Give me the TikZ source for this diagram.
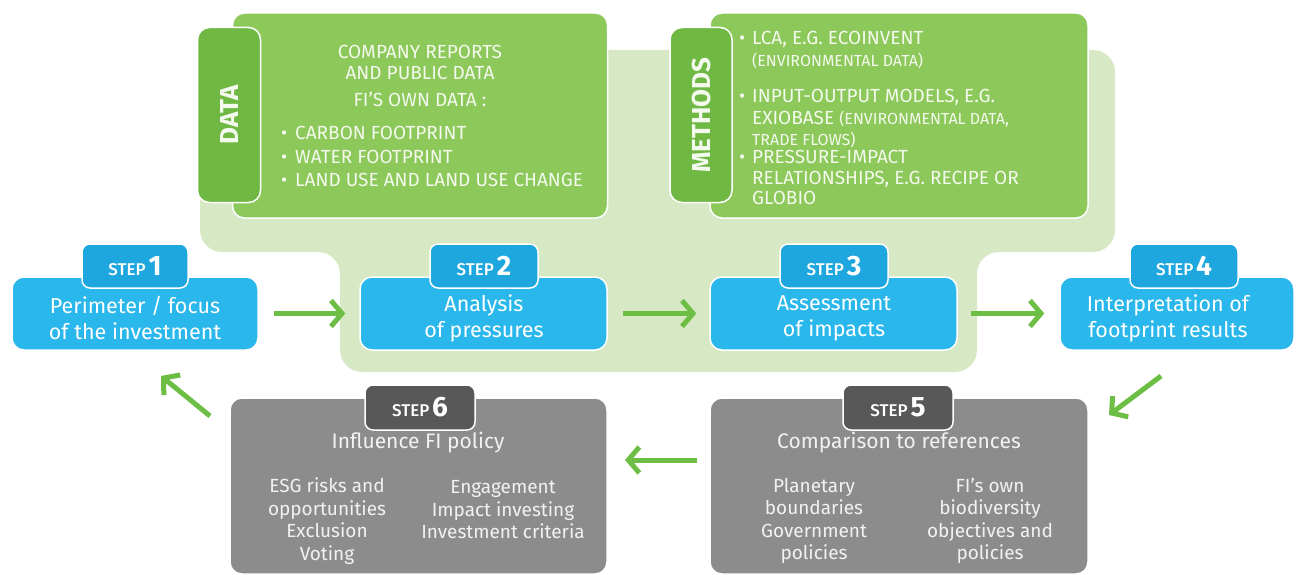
\documentclass[tikz,border=0pt]{standalone}
\usepackage{fontspec}
\setmainfont{Fira Sans}
\newfontfamily\medfont{Fira Sans Medium}
\usetikzlibrary{arrows.meta}
\definecolor{lgreen}{HTML}{D7E8C4}
\definecolor{mgreen}{HTML}{8DC85B}
\definecolor{dgreen}{HTML}{70B844}
\definecolor{gtext}{HTML}{F3F9EC}
\definecolor{bbox}{HTML}{29B7EC}
\definecolor{btab}{HTML}{1EA6DE}
\definecolor{gbox}{HTML}{8C8C8C}
\definecolor{gtab}{HTML}{585858}
\definecolor{graytext}{HTML}{F2F2F2}
\definecolor{arrgreen}{HTML}{6DBE45}
\begin{document}
\begin{tikzpicture}[x=1pt,y=-1pt,
  boxbase/.style={rounded corners=12pt, draw=white, line width=1.5pt, inner sep=0pt},
  greenbox/.style={boxbase, fill=mgreen},
  greentab/.style={boxbase, fill=dgreen},
  bluebox/.style={boxbase, fill=bbox},
  bluetab/.style={boxbase, fill=btab, rounded corners=8pt, text=white},
  graybox/.style={boxbase, fill=gbox},
  graytab/.style={boxbase, fill=gtab, rounded corners=8pt, text=white},
  gtxt/.style={inner sep=0pt, text=gtext, font=\fontsize{19}{22}\selectfont, text height=13pt, text depth=0pt},
  gsmall/.style={gtxt, font=\fontsize{16}{18}\selectfont, text height=11pt},
  tablbl/.style={inner sep=0pt, text=gtext, font=\fontsize{26}{26}\selectfont\bfseries, rotate=90},
  bluetxt/.style={inner sep=0pt, text=white, align=center, font=\fontsize{21.5}{26}\selectfont},
  graytitle/.style={inner sep=0pt, text=graytext, font=\fontsize{21}{24}\selectfont},
  graytxt/.style={inner sep=0pt, text=graytext, align=center, font=\fontsize{19}{22.5}\selectfont},
  arr/.style={draw=arrgreen, line width=5pt, -{Straight Barb[length=11pt, width=26pt]}}
]
\useasboundingbox (0,0) rectangle (1296,575);
\newcommand{\steplbl}[1]{{\medfont\fontsize{17}{17}\selectfont STEP\,}{\fontsize{28}{28}\selectfont\bfseries #1}}

% light green background
\fill[lgreen, rounded corners=22pt] (200,50) -- (1115,50) -- (1115,252) -- (977,252) -- (977,372) -- (340,372) -- (340,252) -- (200,252) -- cycle;

% DATA
\node[greenbox, minimum width=375pt, minimum height=205pt] (databox) at (420,115.5) {};
\node[greentab, minimum width=63pt, minimum height=175pt] (datatab) at (229,115) {};
\node[tablbl] (datalbl) at (datatab) {DATA};
\node[gtxt] (d1) at (420,52) {COMPANY REPORTS};
\node[gtxt] (d2) at (420,73) {AND PUBLIC DATA};
\node[gtxt] (d3) at (420,100) {FI’S OWN DATA :};
\node[gtxt, anchor=west] (d4) at (281,133) {\makebox[14pt][l]{•}CARBON FOOTPRINT};
\node[gtxt, anchor=west] (d5) at (281,157) {\makebox[14pt][l]{•}WATER FOOTPRINT};
\node[gtxt, anchor=west] (d6) at (281,180) {\makebox[14pt][l]{•}LAND USE AND LAND USE CHANGE};

% METHODS
\node[greenbox, minimum width=378pt, minimum height=205pt] (methbox) at (899,115.5) {};
\node[greentab, minimum width=62pt, minimum height=175pt] (methtab) at (701,115) {};
\node[tablbl] (methlbl) at (methtab) {METHODS};
\node[gtxt, anchor=west] (m1) at (739,38) {\makebox[13pt][l]{•}LCA, E.G. ECOINVENT};
\node[gsmall, anchor=west] (m2) at (752,61) {(ENVIRONMENTAL DATA)};
\node[gtxt, anchor=west] (m3) at (739,96) {\makebox[13pt][l]{•}INPUT-OUTPUT MODELS, E.G.};
\node[gtxt, anchor=west] (m4) at (752,118) {EXIOBASE {\fontsize{16}{18}\selectfont (ENVIRONMENTAL DATA,}};
\node[gsmall, anchor=west] (m5) at (752,140) {TRADE FLOWS)};
\node[gtxt, anchor=west] (m6) at (739,157) {\makebox[13pt][l]{•}PRESSURE-IMPACT};
\node[gtxt, anchor=west] (m7) at (752,178) {RELATIONSHIPS, E.G. RECIPE OR};
\node[gtxt, anchor=west] (m8) at (752,198) {GLOBIO};

% blue steps
\node[bluebox, minimum width=246pt, minimum height=73pt] (s1) at (135,313.5) {};
\node[bluetab, minimum width=106pt, minimum height=44pt] (t1) at (135,266) {\steplbl{1}};
\node[bluetxt] (s1t) at (135,318) {Perimeter / focus\\of the investment};

\node[bluebox, minimum width=247pt, minimum height=73pt] (s2) at (483.5,313.5) {};
\node[bluetab, minimum width=108pt, minimum height=44pt] (t2) at (484,266) {\steplbl{2}};
\node[bluetxt] (s2t) at (484,318) {Analysis\\of pressures};

\node[bluebox, minimum width=247pt, minimum height=73pt] (s3) at (833.5,313.5) {};
\node[bluetab, minimum width=108pt, minimum height=44pt] (t3) at (834,266) {\steplbl{3}};
\node[bluetxt] (s3t) at (834,318) {Assessment\\of impacts};

\node[bluebox, minimum width=234pt, minimum height=73pt] (s4) at (1177,313.5) {};
\node[bluetab, minimum width=108pt, minimum height=44pt] (t4) at (1184,266) {\steplbl{4}};
\node[bluetxt] (s4t) at (1168,318) {Interpretation of\\footprint results};

% gray steps
\node[graybox, minimum width=377pt, minimum height=176pt] (s6) at (418.5,486) {};
\node[graytab, minimum width=110pt, minimum height=45pt] (t6) at (420,407.5) {\steplbl{6}};
\node[graytitle] (s6t) at (418,443) {Influence FI policy};
\node[graytxt] (s6a) at (327,521) {ESG risks and\\opportunities\\Exclusion\\Voting};
\node[graytxt] (s6b) at (503,510) {Engagement\\Impact investing\\Investment criteria};

\node[graybox, minimum width=378pt, minimum height=176pt] (s5) at (899,486) {};
\node[graytab, minimum width=110pt, minimum height=45pt] (t5) at (898,407.5) {\steplbl{5}};
\node[graytitle] (s5t) at (899,443) {Comparison to references};
\node[graytxt] (s5a) at (814,521) {Planetary\\boundaries\\Government\\policies};
\node[graytxt] (s5b) at (990,521) {FI’s own\\biodiversity\\objectives and\\policies};

% arrows
\draw[arr] ([xshift=15pt]s1.east) -- ([xshift=-14pt]s2.west);
\draw[arr] ([xshift=15pt]s2.east) -- ([xshift=-13pt]s3.west);
\draw[arr] ([xshift=13pt]s3.east) -- ([xshift=-15pt]s4.west);
\coordinate (c45a) at (1161,376);
\coordinate (c45b) at (1109,415);
\draw[arr] (c45a) -- (c45b);
\coordinate (c56a) at (697,460);
\coordinate (c56b) at (625,460);
\draw[arr] (c56a) -- (c56b);
\coordinate (c61a) at (210,416);
\coordinate (c61b) at (161,376);
\draw[arr] (c61a) -- (c61b);
\end{tikzpicture}
\end{document}
